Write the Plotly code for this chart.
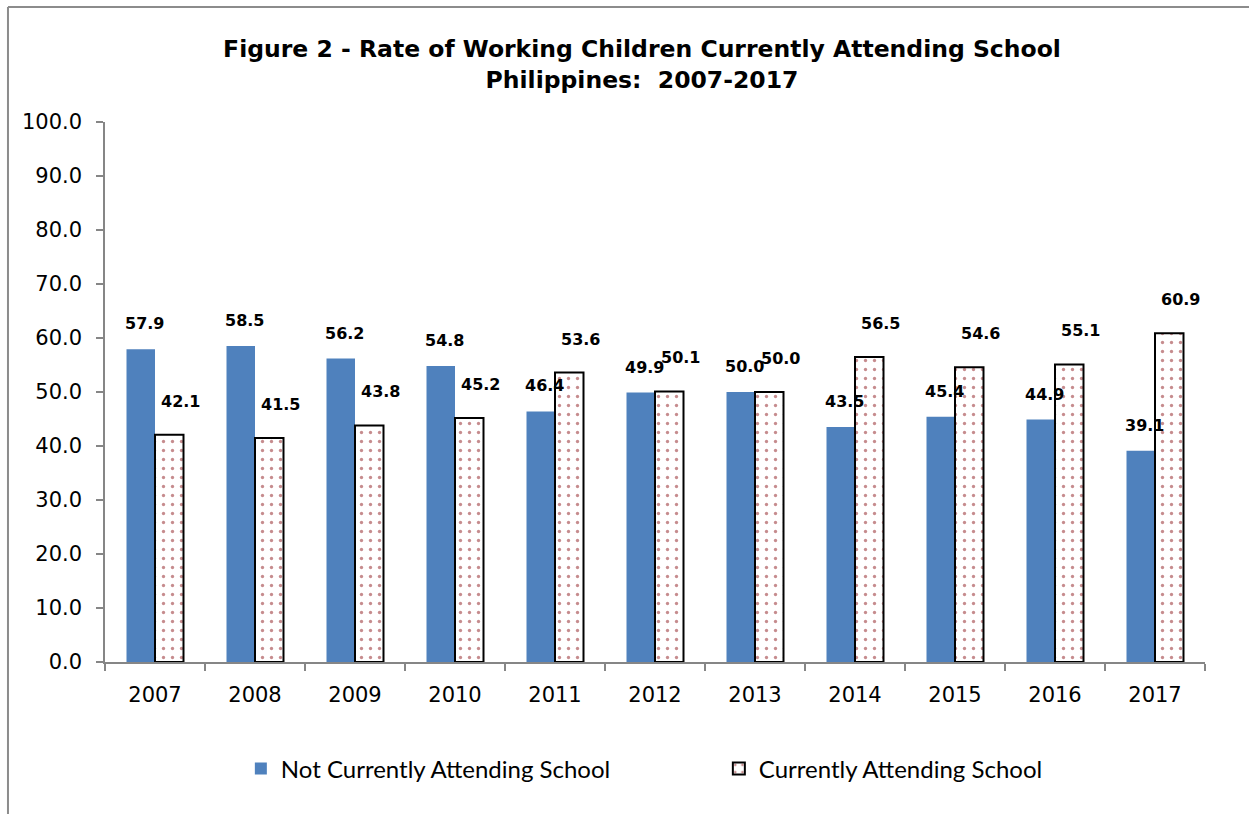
import plotly.graph_objects as go

# Rate of working children by school attendance, Philippines 2007-2017
years = ["2007", "2008", "2009", "2010", "2011", "2012", "2013", "2014", "2015", "2016", "2017"]
not_attending = [57.9, 58.5, 56.2, 54.8, 46.4, 49.9, 50.0, 43.5, 45.4, 44.9, 39.1]
attending = [42.1, 41.5, 43.8, 45.2, 53.6, 50.1, 50.0, 56.5, 54.6, 55.1, 60.9]
y_ticks = [0, 10, 20, 30, 40, 50, 60, 70, 80, 90, 100]

BLUE = "#4F81BD"
DOT_RED = "#8E1A1E"
AXIS_GRAY = "#868686"

fig = go.Figure()
fig.add_trace(go.Bar(
    x=years, y=not_attending, name="Not Currently Attending School",
    marker=dict(color=BLUE, line=dict(width=0)),
))
fig.add_trace(go.Bar(
    x=years, y=attending, name="Currently Attending School",
    marker=dict(
        color="white",
        line=dict(color="black", width=2),
        pattern=dict(shape=".", fgcolor=DOT_RED, bgcolor="white", size=9, solidity=0.11),
    ),
))

# value labels above each bar (positioned by category index)
label_font = dict(family="DejaVu Sans", size=16, color="black", weight="bold")
annotations = []
for i, v in enumerate(not_attending):
    annotations.append(dict(x=i, y=v, xref="x", yref="y", text=f"{v:.1f}", showarrow=False,
                            xshift=-11, yshift=14, yanchor="bottom", font=label_font))
for i, v in enumerate(attending):
    annotations.append(dict(x=i, y=v, xref="x", yref="y", text=f"{v:.1f}", showarrow=False,
                            xshift=25, yshift=22, yanchor="bottom", font=label_font))

# outer chart frame (left and top edges)
shapes = [
    dict(type="line", xref="paper", yref="paper", x0=-0.0882, x1=-0.0882, y0=-0.30, y1=1.213,
         line=dict(color="#8C8C8C", width=2)),
    dict(type="line", xref="paper", yref="paper", x0=-0.0882, x1=1.06, y0=1.213, y1=1.213,
         line=dict(color="#8C8C8C", width=2)),
]

fig.update_layout(
    width=1249, height=814,
    margin=dict(l=105, r=44, t=122, b=152),
    paper_bgcolor="white", plot_bgcolor="white",
    barmode="group", bargap=0.43, bargroupgap=0,
    title=dict(
        text="Figure 2 - Rate of Working Children Currently Attending School<br>Philippines:  2007-2017",
        x=0.514, xanchor="center", y=0.930, yanchor="middle",
        font=dict(family="DejaVu Sans", size=23.5, color="black", weight="bold"),
    ),
    xaxis=dict(
        type="category", range=[-0.5, len(years) - 0.5],
        showline=True, linecolor=AXIS_GRAY, linewidth=1.5,
        ticks="outside", tickson="boundaries", ticklen=7, tickcolor=AXIS_GRAY, tickwidth=1.5,
        tickfont=dict(family="DejaVu Sans", size=21, color="black"),
        ticklabelstandoff=13, showgrid=False, tickangle=0,
    ),
    yaxis=dict(
        range=[0, 100], tickvals=y_ticks, tickformat=".1f",
        showline=True, linecolor=AXIS_GRAY, linewidth=1.5,
        ticks="outside", ticklen=7, tickcolor=AXIS_GRAY, tickwidth=1.5,
        tickfont=dict(family="DejaVu Sans", size=21, color="black"),
        ticklabelstandoff=10, showgrid=False, zeroline=False,
    ),
    legend=dict(
        orientation="h", x=0.1235, xanchor="left", y=-0.198, yanchor="middle",
        font=dict(family="Lato", size=24, color="black"),
        entrywidth=433, entrywidthmode="pixels", itemwidth=30,
    ),
    annotations=annotations,
    shapes=shapes,
)

fig.write_html("out.html")
